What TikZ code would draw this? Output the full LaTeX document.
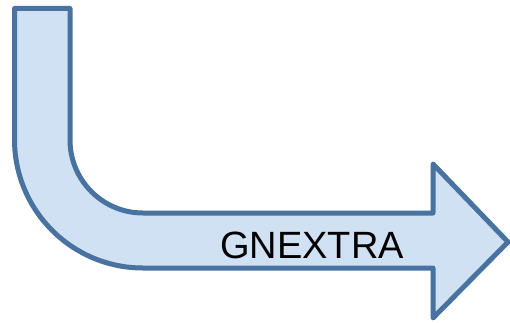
\documentclass[tikz,border=0pt]{standalone}
\usepackage{fontspec}
\setmainfont{Liberation Sans}
\definecolor{arrowfill}{HTML}{D0E1F3}
\definecolor{arrowline}{HTML}{4872A0}
\begin{document}
\begin{tikzpicture}[x=1pt,y=1pt,
  bentarrow/.style={draw=arrowline, fill=arrowfill, line width=5pt, line join=round},
  arrowlabel/.style={font=\fontsize{38}{40}\selectfont, text=black, inner sep=0pt}]
  \useasboundingbox (0,0) rectangle (510,322);
  % bent arrow: vertical shaft, rounded elbow, horizontal shaft and head
  \draw[bentarrow]
    (14.5,313.5) -- (70,313.5) -- (70,182)
    arc[start angle=180, end angle=270, radius=73]
    -- (433,109) -- (433,158) -- (508,80) -- (433,4) -- (433,54)
    -- (143,54)
    arc[start angle=270, end angle=180, radius=128.5]
    -- cycle;
  \node[arrowlabel] (label) at (312,77) {GNEXTRA};
\end{tikzpicture}
\end{document}
